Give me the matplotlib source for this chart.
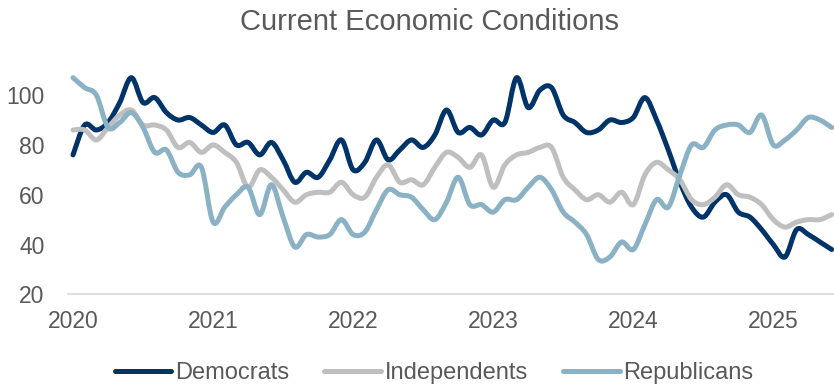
import numpy as np
import matplotlib
matplotlib.use("Agg")
import matplotlib.pyplot as plt
from matplotlib.path import Path
from matplotlib.patches import PathPatch
from matplotlib.lines import Line2D

plt.rcParams['font.family'] = ['Liberation Sans', 'DejaVu Sans']

# monthly readings, Jan 2020 .. Jun 2025
democrats = [76, 88, 86, 89, 97, 107, 97, 99, 93, 90, 91, 88,
             85, 88, 80, 81, 76, 81, 74, 65, 69, 67, 74, 82,
             70, 73, 82, 74, 78, 82, 79, 84, 94, 85, 87, 84,
             90, 89, 107, 95, 102, 103, 92, 89, 85, 86, 90, 89,
             91, 99, 90, 78, 65, 55, 51, 57, 60, 53, 51, 46,
             40, 35, 46, 44, 41, 38]
independents = [86, 86, 82, 87, 92, 94, 88, 88, 86, 79, 81, 77,
                80, 77, 73, 63, 70, 67, 62, 57, 60, 61, 61, 65,
                60, 59, 67, 72, 65, 66, 64, 71, 77, 75, 71, 76,
                63, 72, 76, 77, 79, 79, 67, 62, 58, 60, 57, 61,
                56, 68, 73, 70, 66, 58, 56, 59, 64, 60, 59, 56,
                50, 47, 49, 50, 50, 52]
republicans = [107, 103, 100, 87, 89, 93, 87, 77, 78, 69, 68, 71,
               49, 55, 60, 63, 52, 64, 51, 39, 44, 43, 44, 50,
               44, 45, 54, 62, 60, 59, 54, 50, 57, 67, 56, 56,
               53, 58, 58, 63, 67, 62, 53, 49, 44, 34, 35, 41,
               38, 48, 58, 55, 68, 80, 79, 86, 88, 88, 85, 92,
               80, 82, 86, 91, 90, 87]
year_labels = ['2020', '2021', '2022', '2023', '2024', '2025']
y_ticks = [20, 40, 60, 80, 100]

names = ['Democrats', 'Independents', 'Republicans']
colors = ['#003469', '#BFBFBF', '#8AB2C4']
txt = '#595959'


def smooth_path(xs, ys):
    # excel-like smoothed line as cubic bezier segments
    pts = np.column_stack([xs, ys]).astype(float)
    n = len(pts)
    verts = [pts[0]]
    codes = [Path.MOVETO]
    for i in range(n - 1):
        p0 = pts[i - 1] if i > 0 else pts[i]
        p1, p2 = pts[i], pts[i + 1]
        p3 = pts[i + 2] if i + 2 < n else pts[i + 1]
        verts += [p1 + (p2 - p0) / 6, p2 - (p3 - p1) / 6, p2]
        codes += [Path.CURVE4] * 3
    return Path(verts, codes)


fig = plt.figure(figsize=(8.34, 3.88), dpi=100)
ax = fig.add_axes([68 / 834, 0.2415, 1 - 68 / 834, 0.5775])

x = np.arange(len(democrats))
for series, c in zip([democrats, independents, republicans], colors):
    ax.add_patch(PathPatch(smooth_path(x, series), fill=False, edgecolor=c,
                           lw=3.6, capstyle='round', joinstyle='round'))

ax.set_xlim(-0.43, 65.2)
ax.set_ylim(20, 110)
ax.set_yticks(y_ticks)
ax.set_xticks(np.arange(len(year_labels)) * 12)
ax.set_xticklabels(year_labels)
ax.tick_params(axis='y', length=0, pad=17, labelsize=16.5, labelcolor=txt)
ax.tick_params(axis='x', length=0, pad=11, labelsize=16.5, labelcolor=txt)
for s in ['left', 'right', 'top']:
    ax.spines[s].set_visible(False)
ax.spines['bottom'].set_color('#D9D9D9')
ax.spines['bottom'].set_linewidth(1.2)

fig.text(429 / 834, (388 - 30) / 388, 'Current Economic Conditions',
         ha='center', va='baseline', fontsize=21, color=txt)

handles = [Line2D([], [], color=c, lw=3.6, solid_capstyle='round') for c in colors]
fig.legend(handles, names, loc='center', bbox_to_anchor=(434 / 834, (388 - 373) / 388),
           ncol=3, frameon=False, fontsize=17, labelcolor=txt,
           handlelength=2.4, handletextpad=0.15, columnspacing=1.5)

fig.savefig('out.png', dpi=100)
